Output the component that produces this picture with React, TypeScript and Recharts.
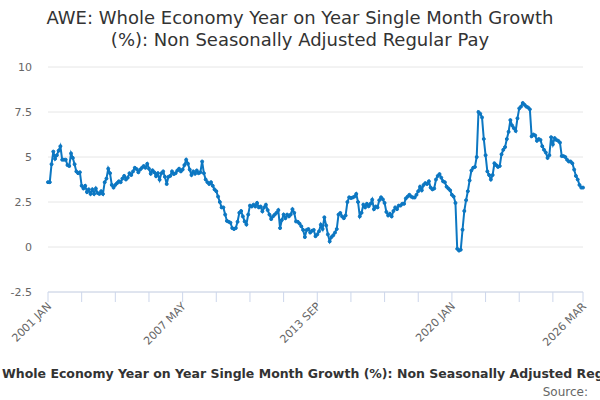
import { CartesianGrid, Line, LineChart, XAxis, YAxis } from "recharts";

const MONTHS = ["JAN", "FEB", "MAR", "APR", "MAY", "JUN", "JUL", "AUG", "SEP", "OCT", "NOV", "DEC"];
const START_YEAR = 2001;

// single month y/y growth, %
const pay2001to2005 = [
  3.6, 3.6, 4.6, 5.3, 4.9, 5.1, 5.35, 5.6, 4.85, 4.85,
  4.85, 4.55, 4.5, 5.2, 4.95, 4.6, 4.2, 4.1, 4.15, 3.4,
  3.25, 3.4, 3.05, 3.2, 2.95, 3.2, 2.95, 3.25, 3.0, 2.95,
  3.1, 2.95, 3.6, 3.8, 4.35, 4.1, 3.45, 3.3, 3.45, 3.55,
  3.65, 3.6, 3.8, 3.95, 3.75, 3.85, 4.1, 4.0, 4.2, 4.4,
  4.33, 4.15, 4.3, 4.4, 4.5, 4.4, 4.62, 4.35, 4.07, 4.26,
];
const pay2006to2010 = [
  4.15, 3.93, 4.1, 3.74, 4.1, 4.2, 3.9, 3.5, 3.9, 3.95,
  4.2, 4.05, 4.1, 4.25, 4.35, 4.2, 4.3, 4.55, 4.85, 4.63,
  4.3, 4.0, 4.2, 4.07, 4.25, 4.1, 4.15, 4.75, 4.1, 3.75,
  3.6, 3.5, 3.6, 3.4, 3.2, 3.1, 2.8, 2.5, 2.2, 2.2,
  1.8, 1.45, 1.4, 1.35, 1.05, 1.0, 1.05, 1.4, 1.9, 2.0,
  1.7, 1.42, 1.25, 1.8, 2.3, 2.25, 2.35, 2.25, 2.45, 2.2,
];
const pay2011to2015 = [
  2.25, 1.98, 2.2, 2.35, 2.05, 1.8, 1.55, 1.7, 1.8, 1.9,
  2.05, 1.05, 1.5, 1.8, 1.6, 1.8, 1.7, 1.8, 2.1, 1.9,
  1.42, 1.4, 1.3, 1.15, 0.95, 0.55, 0.95, 1.0, 0.8, 0.9,
  0.95, 0.6, 0.7, 0.87, 1.24, 1.0, 1.65, 1.2, 0.7, 0.31,
  0.55, 0.65, 0.8, 1.0, 1.8, 1.89, 1.7, 1.6, 1.75, 2.5,
  2.76, 2.72, 2.75, 2.8, 2.95, 2.5, 1.7, 1.9, 2.35, 2.2,
];
const pay2016to2020 = [
  2.4, 2.26, 2.4, 2.63, 2.1, 2.25, 2.2, 2.6, 2.76, 2.65,
  2.45, 1.95, 1.75, 1.85, 1.7, 2.0, 2.2, 2.1, 2.3, 2.3,
  2.4, 2.4, 2.7, 2.8, 2.9, 2.8, 2.75, 2.75, 2.9, 3.1,
  3.35, 3.15, 3.45, 3.55, 3.5, 3.65, 3.3, 3.2, 3.25, 3.75,
  3.95, 4.05, 3.85, 3.65, 3.6, 3.35, 3.25, 3.15, 2.9, 2.8,
  2.45, -0.1, -0.2, -0.15, 0.96, 2.0, 2.6, 3.1, 3.7, 4.25,
];
const pay2021to2026 = [
  4.4, 4.45, 5.0, 7.5, 7.4, 7.2, 6.0, 5.1, 4.2, 4.0,
  3.75, 4.0, 4.65, 4.55, 4.45, 4.5, 5.15, 5.4, 5.55, 6.0,
  6.4, 7.05, 6.75, 6.6, 6.45, 7.15, 7.7, 7.8, 8.0, 7.9,
  7.8, 7.75, 7.65, 6.15, 6.25, 6.2, 5.9, 6.0, 5.95, 5.6,
  5.4, 5.25, 4.95, 5.1, 6.1, 5.7, 6.05, 5.95, 5.9, 5.8,
  5.05, 5.05, 5.0, 4.85, 4.75, 4.75, 4.65, 4.3, 3.95, 3.75,
  3.45, 3.3, 3.3,
];

const growth = [...pay2001to2005, ...pay2006to2010, ...pay2011to2015, ...pay2016to2020, ...pay2021to2026];
const categories = growth.map((_, i) => `${START_YEAR + Math.floor(i / 12)} ${MONTHS[i % 12]}`);
const labelledMonths = ["2001 JAN", "2007 MAY", "2013 SEP", "2020 JAN", "2026 MAR"];
const xTicks = categories.filter((_, i) => i % 19 === 0 || i === categories.length - 1);
const yTicks = [-2.5, 0, 2.5, 5, 7.5, 10];

const data = categories.map((month, i) => ({ month, value: growth[i] }));

const TITLE = "AWE: Whole Economy Year on Year Single Month Growth (%): Non Seasonally Adjusted Regular Pay";
const SERIES_NAME = "Whole Economy Year on Year Single Month Growth (%): Non Seasonally Adjusted Regular Pay";
const LINE_COLOR = "#0c77c2";

function MonthTick({ x, y, payload }: { x: number; y: number; payload: { value: string } }) {
  if (!labelledMonths.includes(payload.value)) return null;
  const ax = x + 4;
  const ay = y + 5;
  return (
    <text x={ax} y={ay} transform={`rotate(-45 ${ax} ${ay})`} textAnchor="end" fill="#666666" fontSize={11}>
      {payload.value}
    </text>
  );
}

export default function App() {
  return (
    <div
      style={{
        position: "absolute",
        left: 0,
        top: 0,
        width: 600,
        height: 400,
        overflow: "hidden",
        background: "#ffffff",
        fontFamily: "'DejaVu Sans', sans-serif",
      }}
    >
      <div
        style={{
          position: "absolute",
          top: 7,
          left: 30,
          width: 540,
          textAlign: "center",
          fontSize: 18,
          lineHeight: "22px",
          color: "#333333",
        }}
      >
        {TITLE}
      </div>

      <LineChart width={600} height={400} data={data} margin={{ top: 67, right: 17, left: 0, bottom: 0 }}>
        <CartesianGrid stroke="#e6e6e6" vertical={false} />
        <XAxis
          dataKey="month"
          ticks={xTicks}
          interval={0}
          height={108}
          tick={MonthTick}
          tickSize={10}
          tickMargin={0}
          axisLine={{ stroke: "#ccd6eb" }}
          tickLine={{ stroke: "#ccd6eb" }}
        />
        <YAxis
          domain={[-2.5, 10]}
          ticks={yTicks}
          width={48}
          axisLine={false}
          tickLine={false}
          tickSize={0}
          tickMargin={16}
          tick={{ fill: "#666666", fontSize: 11 }}
        />
        <Line
          type="linear"
          dataKey="value"
          stroke={LINE_COLOR}
          strokeWidth={2}
          dot={{ r: 1.5, fill: LINE_COLOR, stroke: LINE_COLOR, strokeWidth: 1 }}
          isAnimationActive={false}
        />
      </LineChart>

      <div
        style={{
          position: "absolute",
          top: 367,
          left: 2,
          whiteSpace: "nowrap",
          fontSize: 12.5,
          lineHeight: "14px",
          fontWeight: "bold",
          color: "#333333",
        }}
      >
        {SERIES_NAME}
      </div>
      <div
        style={{
          position: "absolute",
          top: 385,
          right: 12,
          fontSize: 12,
          lineHeight: "14px",
          color: "#666666",
        }}
      >
        Source:
      </div>
    </div>
  );
}
